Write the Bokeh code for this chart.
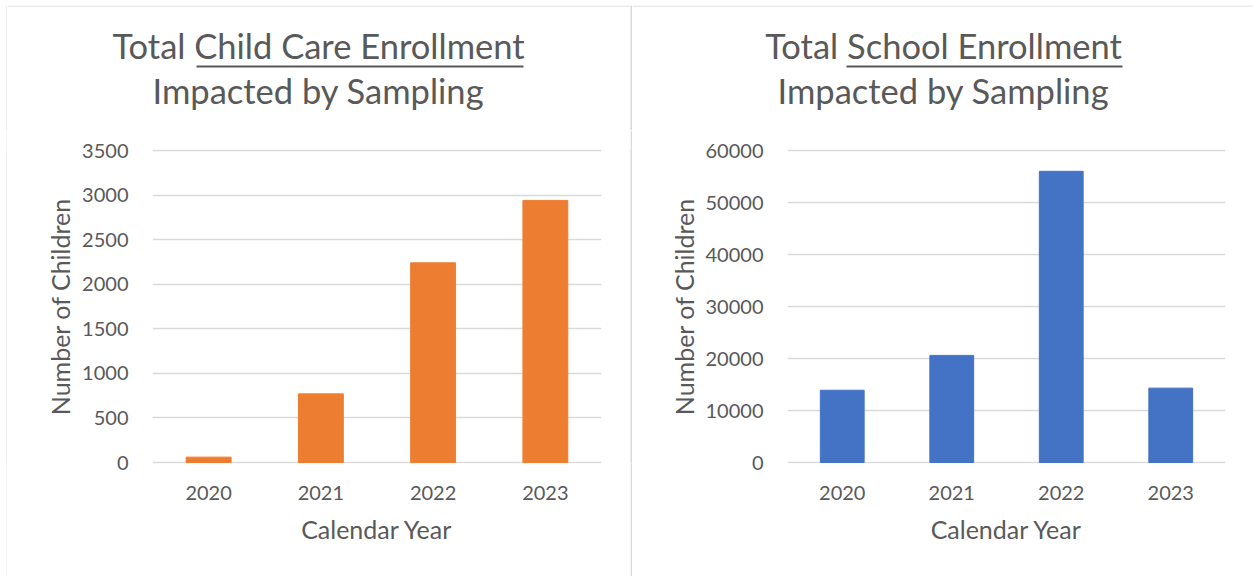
from bokeh.plotting import figure
from bokeh.models import Range1d, FactorRange, FixedTicker, Spacer
from bokeh.layouts import row, column
from bokeh.embed import file_html
from bokeh.resources import INLINE
from bokeh.core.properties import value

years = ["2020", "2021", "2022", "2023"]
child_care = [60, 770, 2240, 2940]
school = [13900, 20600, 56000, 14300]
cc_ticks = [0, 500, 1000, 1500, 2000, 2500, 3000, 3500]
school_ticks = [0, 10000, 20000, 30000, 40000, 50000, 60000]

FONT = "Lato"
TXT = "#595959"
GRID = "#d9d9d9"
BORDER = "#d9d9d9"


def vline(w, h):
    f = figure(width=w, height=h, min_border=0, toolbar_location=None,
               output_backend="svg", x_axis_type=None, y_axis_type=None)
    f.outline_line_color = None
    f.background_fill_color = BORDER
    f.border_fill_color = BORDER
    f.grid.visible = False
    return f


def title_fig(x0, x1, cx, line1, line2, ux0, ux1):
    f = figure(width=x1 - x0, height=125, min_border=0, toolbar_location=None,
               output_backend="svg", x_axis_type=None, y_axis_type=None,
               x_range=Range1d(x0, x1), y_range=Range1d(130, 5))
    f.outline_line_color = None
    f.grid.visible = False
    f.border_fill_color = "white"
    f.segment(x0=[x0], y0=[5.5], x1=[x1], y1=[5.5], line_color=BORDER, line_width=1)
    f.text(x=[cx, cx], y=[45, 90], text=[line1, line2], text_align="center",
           text_baseline="alphabetic", text_font=value(FONT),
           text_font_size="34.5px", text_color=TXT)
    f.segment(x0=[ux0], y0=[66], x1=[ux1], y1=[66], line_color=TXT, line_width=2)
    return f


def chart_fig(values, ticks, color, width, b_left, b_right):
    pad = ticks[-1] / 312.0
    p = figure(x_range=FactorRange(*years),
               y_range=Range1d(-pad, ticks[-1] + pad),
               width=width, height=446, output_backend="svg",
               toolbar_location=None, min_border_left=b_left,
               min_border_right=b_right, min_border_top=19,
               min_border_bottom=113)
    p.vbar(x=years, top=values, width=0.4, color=color)
    p.outline_line_color = None
    p.border_fill_color = "white"
    p.xgrid.grid_line_color = None
    p.ygrid.grid_line_color = GRID
    p.ygrid.grid_line_width = 1.5
    p.yaxis.ticker = FixedTicker(ticks=ticks)
    for ax in (p.xaxis[0], p.yaxis[0]):
        ax.axis_line_color = None
        ax.major_tick_line_color = None
        ax.minor_tick_line_color = None
        ax.major_label_text_font = FONT
        ax.major_label_text_font_size = "20px"
        ax.major_label_text_color = TXT
        ax.axis_label_text_font = FONT
        ax.axis_label_text_font_size = "25px"
        ax.axis_label_text_font_style = "normal"
        ax.axis_label_text_color = TXT
    p.yaxis.axis_label = "Number of Children"
    p.xaxis.axis_label = "Calendar Year"
    p.yaxis.major_label_standoff = 18
    p.yaxis.axis_label_standoff = 4
    p.xaxis.major_label_standoff = 16
    p.xaxis.axis_label_standoff = 11
    p.yaxis.formatter.use_scientific = False
    return p


t1 = title_fig(7, 630, 318, "Total Child Care Enrollment", "Impacted by Sampling", 196, 523)
t2 = title_fig(632, 1253, 943, "Total School Enrollment", "Impacted by Sampling", 846, 1122)
c1 = chart_fig(child_care, cc_ticks, "#ED7D31", 623, 145, 29)
c2 = chart_fig(school, school_ticks, "#4472C4", 621, 155, 28)

layout = column(
    Spacer(width=1253, height=5),
    row(Spacer(width=6, height=125), vline(1, 125), t1, vline(2, 125), t2),
    row(Spacer(width=6, height=446), vline(1, 446), c1, vline(2, 446), c2),
)
open("out.html", "w").write(file_html(layout, INLINE))
